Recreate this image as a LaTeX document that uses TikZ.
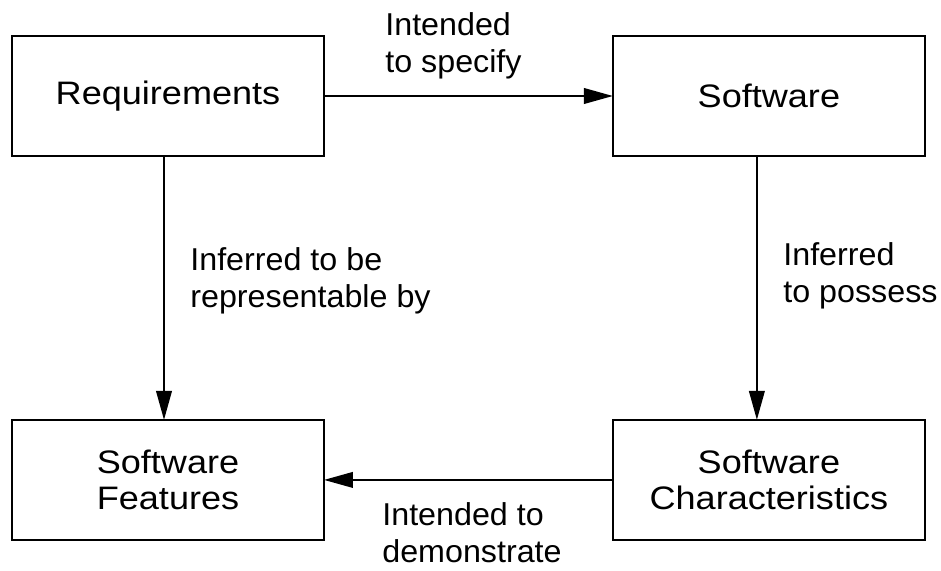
\documentclass[tikz,border=0pt]{standalone}
\usepackage{fontspec}
\setmainfont{Liberation Sans}[FakeStretch=1.11]
\newfontfamily\labelfont{Liberation Sans}[FakeStretch=1.02]
\usetikzlibrary{positioning,arrows.meta}

\begin{document}
\begin{tikzpicture}
                [%%%%%%%%%%%%%%%%%%%%%%%%%%%%%%%%%%%%%%%%%%%%%%%%%%%%%%%%%%
                    x=0.02cm,y=-0.02cm,
                    node distance =5.28cm and 5.78cm,
                    >={Triangle[length=5.8mm,width=3.1mm]},
                    box/.style={rectangle,draw,line width=1.3pt,outer sep=0pt,
                                minimum width=6.24cm,minimum height=2.4cm,align=center,
                                font=\fontsize{18.5}{21}\selectfont},
                    lbl/.style={anchor=north west,inner sep=0pt,align=left,
                                font=\labelfont\fontsize{18}{21}\selectfont},
                    link/.style={->,line width=1.3pt}
                ]%%%%%%%%%%%%%%%%%%%%%%%%%%%%%%%%%%%%%%%%%%%%%%%%%%%%%%%%%%
                \useasboundingbox (0,0) rectangle (941,571);

                \node[box] (req) at (168,96) {Requirements};
                \node[box] (soft) [right=of req] {Software};
                \node[box] (feat) [below=of req] {Software\\Features};
                \node[box] (char) [below=of soft] {Software\\Characteristics};

                \draw [link] (req) -- (soft);
                \draw [link] ([xshift=-0.08cm]req.south) -- ([xshift=-0.08cm]feat.north);
                \draw [link] ([xshift=-0.24cm]soft.south) -- ([xshift=-0.24cm]char.north);
                \draw [link] (char) -- (feat);

                \node[lbl] (specify) at (385,12) {Intended\\to specify};
                \node[lbl] (represent) at (190,247) {Inferred to be\\representable by};
                \node[lbl] (possess) at (783,242) {Inferred\\to possess};
                \node[lbl] (demo) at (382,502) {Intended to\\demonstrate};
\end{tikzpicture}
\end{document}
